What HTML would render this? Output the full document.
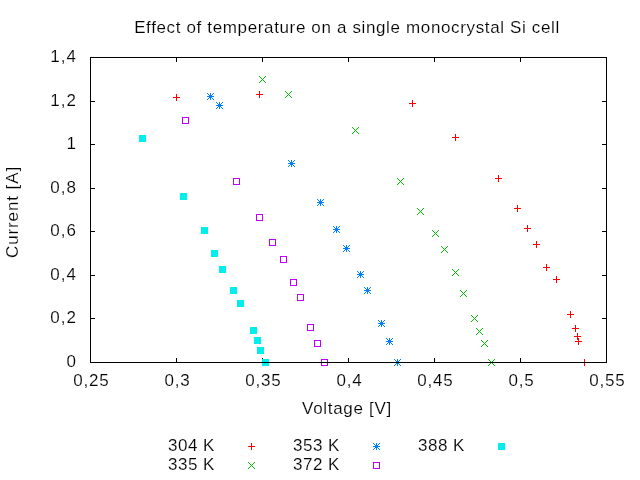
<!DOCTYPE html>
<html><head><meta charset="utf-8"><style>
html,body{margin:0;padding:0;background:#fff;width:640px;height:480px;overflow:hidden}
svg{display:block;will-change:transform}
text{font-family:"Liberation Sans",sans-serif;font-size:17px;fill:#000;stroke:#fff;stroke-width:0.15px}
</style></head><body>
<svg width="640" height="480" viewBox="0 0 640 480">
<rect width="640" height="480" fill="#fff"/>
<path d="M176 358h1v4h-1z M176 58h1v4h-1z M262 358h1v4h-1z M262 58h1v4h-1z M348 358h1v4h-1z M348 58h1v4h-1z M434 358h1v4h-1z M434 58h1v4h-1z M520 358h1v4h-1z M520 58h1v4h-1z M91 318h4v1h-4z M602 318h4v1h-4z M91 275h4v1h-4z M602 275h4v1h-4z M91 231h4v1h-4z M602 231h4v1h-4z M91 188h4v1h-4z M602 188h4v1h-4z M91 144h4v1h-4z M602 144h4v1h-4z M91 101h4v1h-4z M602 101h4v1h-4z " fill="#000" shape-rendering="crispEdges"/>
<path d="M173 97h7v1h-7z M176 94h1v7h-1z M256 94h7v1h-7z M259 91h1v7h-1z M409 103h7v1h-7z M412 100h1v7h-1z M452 137h7v1h-7z M455 134h1v7h-1z M495 178h7v1h-7z M498 175h1v7h-1z M514 208h7v1h-7z M517 205h1v7h-1z M524 228h7v1h-7z M527 225h1v7h-1z M533 244h7v1h-7z M536 241h1v7h-1z M543 267h7v1h-7z M546 264h1v7h-1z M553 279h7v1h-7z M556 276h1v7h-1z M567 314h7v1h-7z M570 311h1v7h-1z M572 328h7v1h-7z M575 325h1v7h-1z M574 336h7v1h-7z M577 333h1v7h-1z M575 341h7v1h-7z M578 338h1v7h-1z M581 362h7v1h-7z M584 359h1v7h-1z M248 446h7v1h-7z M251 443h1v7h-1z " fill="#ff0000" shape-rendering="crispEdges"/>
<path d="M259 76h1v1h-1z M259 82h1v1h-1z M260 77h1v1h-1z M260 81h1v1h-1z M261 78h1v1h-1z M261 80h1v1h-1z M262 79h1v1h-1z M263 80h1v1h-1z M263 78h1v1h-1z M264 81h1v1h-1z M264 77h1v1h-1z M265 82h1v1h-1z M265 76h1v1h-1z M285 91h1v1h-1z M285 97h1v1h-1z M286 92h1v1h-1z M286 96h1v1h-1z M287 93h1v1h-1z M287 95h1v1h-1z M288 94h1v1h-1z M289 95h1v1h-1z M289 93h1v1h-1z M290 96h1v1h-1z M290 92h1v1h-1z M291 97h1v1h-1z M291 91h1v1h-1z M352 127h1v1h-1z M352 133h1v1h-1z M353 128h1v1h-1z M353 132h1v1h-1z M354 129h1v1h-1z M354 131h1v1h-1z M355 130h1v1h-1z M356 131h1v1h-1z M356 129h1v1h-1z M357 132h1v1h-1z M357 128h1v1h-1z M358 133h1v1h-1z M358 127h1v1h-1z M397 178h1v1h-1z M397 184h1v1h-1z M398 179h1v1h-1z M398 183h1v1h-1z M399 180h1v1h-1z M399 182h1v1h-1z M400 181h1v1h-1z M401 182h1v1h-1z M401 180h1v1h-1z M402 183h1v1h-1z M402 179h1v1h-1z M403 184h1v1h-1z M403 178h1v1h-1z M417 208h1v1h-1z M417 214h1v1h-1z M418 209h1v1h-1z M418 213h1v1h-1z M419 210h1v1h-1z M419 212h1v1h-1z M420 211h1v1h-1z M421 212h1v1h-1z M421 210h1v1h-1z M422 213h1v1h-1z M422 209h1v1h-1z M423 214h1v1h-1z M423 208h1v1h-1z M432 230h1v1h-1z M432 236h1v1h-1z M433 231h1v1h-1z M433 235h1v1h-1z M434 232h1v1h-1z M434 234h1v1h-1z M435 233h1v1h-1z M436 234h1v1h-1z M436 232h1v1h-1z M437 235h1v1h-1z M437 231h1v1h-1z M438 236h1v1h-1z M438 230h1v1h-1z M441 246h1v1h-1z M441 252h1v1h-1z M442 247h1v1h-1z M442 251h1v1h-1z M443 248h1v1h-1z M443 250h1v1h-1z M444 249h1v1h-1z M445 250h1v1h-1z M445 248h1v1h-1z M446 251h1v1h-1z M446 247h1v1h-1z M447 252h1v1h-1z M447 246h1v1h-1z M452 269h1v1h-1z M452 275h1v1h-1z M453 270h1v1h-1z M453 274h1v1h-1z M454 271h1v1h-1z M454 273h1v1h-1z M455 272h1v1h-1z M456 273h1v1h-1z M456 271h1v1h-1z M457 274h1v1h-1z M457 270h1v1h-1z M458 275h1v1h-1z M458 269h1v1h-1z M460 290h1v1h-1z M460 296h1v1h-1z M461 291h1v1h-1z M461 295h1v1h-1z M462 292h1v1h-1z M462 294h1v1h-1z M463 293h1v1h-1z M464 294h1v1h-1z M464 292h1v1h-1z M465 295h1v1h-1z M465 291h1v1h-1z M466 296h1v1h-1z M466 290h1v1h-1z M471 315h1v1h-1z M471 321h1v1h-1z M472 316h1v1h-1z M472 320h1v1h-1z M473 317h1v1h-1z M473 319h1v1h-1z M474 318h1v1h-1z M475 319h1v1h-1z M475 317h1v1h-1z M476 320h1v1h-1z M476 316h1v1h-1z M477 321h1v1h-1z M477 315h1v1h-1z M476 328h1v1h-1z M476 334h1v1h-1z M477 329h1v1h-1z M477 333h1v1h-1z M478 330h1v1h-1z M478 332h1v1h-1z M479 331h1v1h-1z M480 332h1v1h-1z M480 330h1v1h-1z M481 333h1v1h-1z M481 329h1v1h-1z M482 334h1v1h-1z M482 328h1v1h-1z M481 340h1v1h-1z M481 346h1v1h-1z M482 341h1v1h-1z M482 345h1v1h-1z M483 342h1v1h-1z M483 344h1v1h-1z M484 343h1v1h-1z M485 344h1v1h-1z M485 342h1v1h-1z M486 345h1v1h-1z M486 341h1v1h-1z M487 346h1v1h-1z M487 340h1v1h-1z M488 359h1v1h-1z M488 365h1v1h-1z M489 360h1v1h-1z M489 364h1v1h-1z M490 361h1v1h-1z M490 363h1v1h-1z M491 362h1v1h-1z M492 363h1v1h-1z M492 361h1v1h-1z M493 364h1v1h-1z M493 360h1v1h-1z M494 365h1v1h-1z M494 359h1v1h-1z M248 462h1v1h-1z M248 468h1v1h-1z M249 463h1v1h-1z M249 467h1v1h-1z M250 464h1v1h-1z M250 466h1v1h-1z M251 465h1v1h-1z M252 466h1v1h-1z M252 464h1v1h-1z M253 467h1v1h-1z M253 463h1v1h-1z M254 468h1v1h-1z M254 462h1v1h-1z " fill="#00c000" shape-rendering="crispEdges"/>
<path d="M207 96h7v1h-7z M210 93h1v7h-1z M207 93h1v1h-1z M207 99h1v1h-1z M208 94h1v1h-1z M208 98h1v1h-1z M209 95h1v1h-1z M209 97h1v1h-1z M210 96h1v1h-1z M211 97h1v1h-1z M211 95h1v1h-1z M212 98h1v1h-1z M212 94h1v1h-1z M213 99h1v1h-1z M213 93h1v1h-1z M216 105h7v1h-7z M219 102h1v7h-1z M216 102h1v1h-1z M216 108h1v1h-1z M217 103h1v1h-1z M217 107h1v1h-1z M218 104h1v1h-1z M218 106h1v1h-1z M219 105h1v1h-1z M220 106h1v1h-1z M220 104h1v1h-1z M221 107h1v1h-1z M221 103h1v1h-1z M222 108h1v1h-1z M222 102h1v1h-1z M288 163h7v1h-7z M291 160h1v7h-1z M288 160h1v1h-1z M288 166h1v1h-1z M289 161h1v1h-1z M289 165h1v1h-1z M290 162h1v1h-1z M290 164h1v1h-1z M291 163h1v1h-1z M292 164h1v1h-1z M292 162h1v1h-1z M293 165h1v1h-1z M293 161h1v1h-1z M294 166h1v1h-1z M294 160h1v1h-1z M317 202h7v1h-7z M320 199h1v7h-1z M317 199h1v1h-1z M317 205h1v1h-1z M318 200h1v1h-1z M318 204h1v1h-1z M319 201h1v1h-1z M319 203h1v1h-1z M320 202h1v1h-1z M321 203h1v1h-1z M321 201h1v1h-1z M322 204h1v1h-1z M322 200h1v1h-1z M323 205h1v1h-1z M323 199h1v1h-1z M333 229h7v1h-7z M336 226h1v7h-1z M333 226h1v1h-1z M333 232h1v1h-1z M334 227h1v1h-1z M334 231h1v1h-1z M335 228h1v1h-1z M335 230h1v1h-1z M336 229h1v1h-1z M337 230h1v1h-1z M337 228h1v1h-1z M338 231h1v1h-1z M338 227h1v1h-1z M339 232h1v1h-1z M339 226h1v1h-1z M343 248h7v1h-7z M346 245h1v7h-1z M343 245h1v1h-1z M343 251h1v1h-1z M344 246h1v1h-1z M344 250h1v1h-1z M345 247h1v1h-1z M345 249h1v1h-1z M346 248h1v1h-1z M347 249h1v1h-1z M347 247h1v1h-1z M348 250h1v1h-1z M348 246h1v1h-1z M349 251h1v1h-1z M349 245h1v1h-1z M357 274h7v1h-7z M360 271h1v7h-1z M357 271h1v1h-1z M357 277h1v1h-1z M358 272h1v1h-1z M358 276h1v1h-1z M359 273h1v1h-1z M359 275h1v1h-1z M360 274h1v1h-1z M361 275h1v1h-1z M361 273h1v1h-1z M362 276h1v1h-1z M362 272h1v1h-1z M363 277h1v1h-1z M363 271h1v1h-1z M364 290h7v1h-7z M367 287h1v7h-1z M364 287h1v1h-1z M364 293h1v1h-1z M365 288h1v1h-1z M365 292h1v1h-1z M366 289h1v1h-1z M366 291h1v1h-1z M367 290h1v1h-1z M368 291h1v1h-1z M368 289h1v1h-1z M369 292h1v1h-1z M369 288h1v1h-1z M370 293h1v1h-1z M370 287h1v1h-1z M378 323h7v1h-7z M381 320h1v7h-1z M378 320h1v1h-1z M378 326h1v1h-1z M379 321h1v1h-1z M379 325h1v1h-1z M380 322h1v1h-1z M380 324h1v1h-1z M381 323h1v1h-1z M382 324h1v1h-1z M382 322h1v1h-1z M383 325h1v1h-1z M383 321h1v1h-1z M384 326h1v1h-1z M384 320h1v1h-1z M386 341h7v1h-7z M389 338h1v7h-1z M386 338h1v1h-1z M386 344h1v1h-1z M387 339h1v1h-1z M387 343h1v1h-1z M388 340h1v1h-1z M388 342h1v1h-1z M389 341h1v1h-1z M390 342h1v1h-1z M390 340h1v1h-1z M391 343h1v1h-1z M391 339h1v1h-1z M392 344h1v1h-1z M392 338h1v1h-1z M394 362h7v1h-7z M397 359h1v7h-1z M394 359h1v1h-1z M394 365h1v1h-1z M395 360h1v1h-1z M395 364h1v1h-1z M396 361h1v1h-1z M396 363h1v1h-1z M397 362h1v1h-1z M398 363h1v1h-1z M398 361h1v1h-1z M399 364h1v1h-1z M399 360h1v1h-1z M400 365h1v1h-1z M400 359h1v1h-1z M373 446h7v1h-7z M376 443h1v7h-1z M373 443h1v1h-1z M373 449h1v1h-1z M374 444h1v1h-1z M374 448h1v1h-1z M375 445h1v1h-1z M375 447h1v1h-1z M376 446h1v1h-1z M377 447h1v1h-1z M377 445h1v1h-1z M378 448h1v1h-1z M378 444h1v1h-1z M379 449h1v1h-1z M379 443h1v1h-1z " fill="#0080ff" shape-rendering="crispEdges"/>
<path d="M182 117h7v7h-7z M183 118v5h5v-5z M233 178h7v7h-7z M234 179v5h5v-5z M256 214h7v7h-7z M257 215v5h5v-5z M269 239h7v7h-7z M270 240v5h5v-5z M280 256h7v7h-7z M281 257v5h5v-5z M290 279h7v7h-7z M291 280v5h5v-5z M297 294h7v7h-7z M298 295v5h5v-5z M307 324h7v7h-7z M308 325v5h5v-5z M314 340h7v7h-7z M315 341v5h5v-5z M321 359h7v7h-7z M322 360v5h5v-5z M373 462h7v7h-7z M374 463v5h5v-5z " fill="#c000ff" fill-rule="evenodd" shape-rendering="crispEdges"/>
<path d="M139 135h7v7h-7z M180 193h7v7h-7z M201 227h7v7h-7z M211 250h7v7h-7z M219 266h7v7h-7z M230 287h7v7h-7z M237 300h7v7h-7z M250 327h7v7h-7z M254 337h7v7h-7z M257 347h7v7h-7z M262 359h7v7h-7z M498 443h7v7h-7z " fill="#00eeee" shape-rendering="crispEdges"/>
<path d="M90 57h517v1h-517z M90 362h517v1h-517z M90 57h1v306h-1z M606 57h1v306h-1z " fill="#000" shape-rendering="crispEdges"/>
<text x="77" y="62" text-anchor="end" letter-spacing="1">1,4</text><text x="77" y="106" text-anchor="end" letter-spacing="1">1,2</text><text x="77" y="149" text-anchor="end" letter-spacing="1">1</text><text x="77" y="193" text-anchor="end" letter-spacing="1">0,8</text><text x="77" y="236" text-anchor="end" letter-spacing="1">0,6</text><text x="77" y="280" text-anchor="end" letter-spacing="1">0,4</text><text x="77" y="323" text-anchor="end" letter-spacing="1">0,2</text><text x="77" y="367" text-anchor="end" letter-spacing="1">0</text><text x="91.4" y="386" text-anchor="middle" letter-spacing="0.75">0,25</text><text x="177.4" y="386" text-anchor="middle" letter-spacing="0.75">0,3</text><text x="263.4" y="386" text-anchor="middle" letter-spacing="0.75">0,35</text><text x="349.4" y="386" text-anchor="middle" letter-spacing="0.75">0,4</text><text x="435.4" y="386" text-anchor="middle" letter-spacing="0.75">0,45</text><text x="521.4" y="386" text-anchor="middle" letter-spacing="0.75">0,5</text><text x="607.4" y="386" text-anchor="middle" letter-spacing="0.75">0,55</text><text x="347" y="33" text-anchor="middle" letter-spacing="0.64">Effect of temperature on a single monocrystal Si cell</text><text x="347" y="414" text-anchor="middle" letter-spacing="0.7">Voltage [V]</text><text transform="translate(18 212) rotate(-90)" x="0" y="0" text-anchor="middle" letter-spacing="0.9">Current [A]</text><text x="168" y="451" letter-spacing="0.5">304 K</text><text x="168" y="470" letter-spacing="0.5">335 K</text><text x="293" y="451" letter-spacing="0.5">353 K</text><text x="293" y="470" letter-spacing="0.5">372 K</text><text x="418" y="451" letter-spacing="0.5">388 K</text>
</svg>
</body></html>
